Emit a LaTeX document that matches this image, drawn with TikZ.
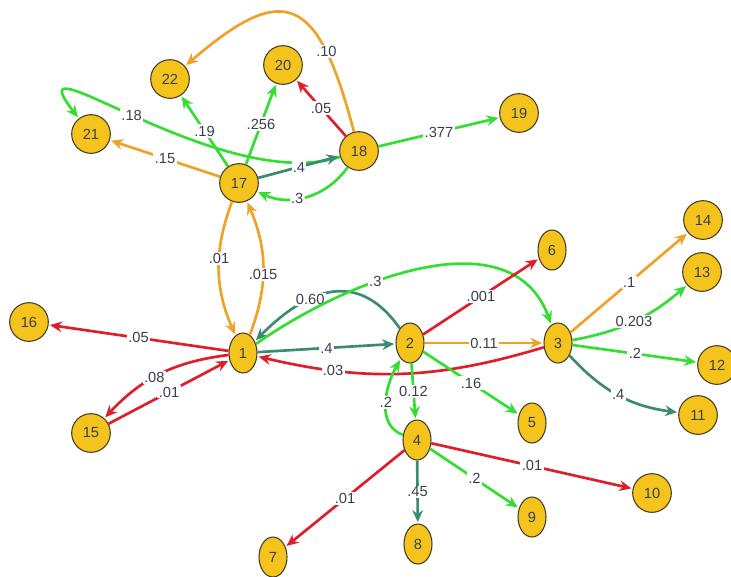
\documentclass[tikz,border=0pt]{standalone}
\usepackage{fontspec}
\setsansfont{Liberation Sans}
\usetikzlibrary{arrows.meta,shapes.geometric}
\definecolor{nodefill}{RGB}{244,196,28}
\definecolor{nodeline}{RGB}{70,60,40}
\definecolor{lbltext}{RGB}{60,62,80}
\definecolor{ered}{RGB}{222,30,40}
\definecolor{eorange}{RGB}{240,162,40}
\definecolor{egreen}{RGB}{50,222,50}
\definecolor{eteal}{RGB}{58,140,112}
\tikzset{
  circ/.style={circle,draw=nodeline,fill=nodefill,line width=0.8pt,
    minimum size=29pt,inner sep=0pt,font=\sffamily\fontsize{11}{13}\selectfont},
  oval/.style={ellipse,draw=nodeline,fill=nodefill,line width=0.8pt,
    minimum width=21pt,minimum height=30pt,inner sep=0pt,font=\sffamily\fontsize{11}{13}\selectfont},
  lbl/.style={fill=white,inner sep=1pt,text=lbltext,font=\sffamily\fontsize{11}{13}\selectfont},
  rd/.style={draw=ered,line width=2pt},
  og/.style={draw=eorange,line width=2pt},
  gn/.style={draw=egreen,line width=2pt},
  tl/.style={draw=eteal,line width=2pt}
}

\begin{document}
\begin{tikzpicture}[->,>={Stealth[length=9pt,width=8pt,inset=3pt]},shorten >=1pt,
    x=0.75pt,y=-0.75pt,every node/.append style={lbl}]
  \useasboundingbox (0,0) rectangle (731,576);

  \node[oval] (1) at (243,353) {1};
  \node[oval] (2) at (410,343) {2};
  \node[oval] (3) at (558,343) {3};
  \node[oval] (4) at (417,440) {4};
  \node[oval] (5) at (532,423) {5};
  \node[oval] (6) at (552,250) {6};
  \node[oval] (7) at (273,557) {7};
  \node[oval] (8) at (418,544) {8};
  \node[oval] (9) at (532,517) {9};
  \node[circ] (10) at (652,493) {10};
  \node[circ] (11) at (698,415) {11};
  \node[circ] (12) at (717,365) {12};
  \node[circ] (13) at (702,272) {13};
  \node[circ] (14) at (703,220) {14};
  \node[circ] (15) at (91,433) {15};
  \node[circ] (16) at (29,322) {16};
  \node[circ] (17) at (239,183) {17};
  \node[circ] (18) at (359,151) {18};
  \node[circ] (19) at (519,113) {19};
  \node[circ] (20) at (283,65) {20};
  \node[circ] (21) at (91,134) {21};
  \node[circ] (22) at (170,79) {22};

  % top cluster
  \draw[og] (18) .. controls (318,-5) and (285,-20) .. (22) node[pos=.25] {.10};
  \draw[gn] (18) .. controls (220,195) and (10,30) .. (21) node[pos=.52] {.18};
  \path (18) edge[rd] node {.05} (20)
        (18) edge[gn] node {.377} (19)
        (17) edge[tl] node {.4} (18)
        (18) edge[gn,bend left=40] node[pos=.6] {.3} (17);
  \path (17) edge[gn] node {.19} (22)
        (17) edge[gn] node {.256} (20)
        (17) edge[og] node {.15} (21);
  \path (17) edge[og,bend right=22] node[pos=.42] {.01} (1)
        (1) edge[og,bend right=22] node[pos=.45] {.015} (17);

  % node 1
  \path (1) edge[rd] node {.05} (16)
        (1) edge[rd,bend right=20] node[pos=.55] {.08} (15)
        (15) edge[rd] node {.01} (1)
        (1) edge[tl] node {.4} (2);
  \path (2) edge[tl,out=125,in=45,looseness=1.3] node[pos=.64] {0.60} (1)
        (1) edge[gn,out=35,in=110] node[pos=.36] {.3} (3)
        (3) edge[rd,bend left=15] node[pos=.75] {.03} (1);

  % node 2
  \path (2) edge[rd] node {.001} (6)
        (2) edge[og] node {0.11} (3)
        (2) edge[gn] node {.16} (5)
        (2) edge[gn] node {0.12} (4)
        (4) edge[gn,out=160,in=240] node {.2} (2);

  % node 3
  \path (3) edge[og] node {.1} (14)
        (3) edge[gn,bend right=15] node {0.203} (13)
        (3) edge[gn] node {.2} (12)
        (3) edge[tl,bend right=20] node {.4} (11);

  % node 4
  \path (4) edge[rd] node {.01} (7)
        (4) edge[tl] node {.45} (8)
        (4) edge[gn] node {.2} (9)
        (4) edge[rd] node {.01} (10);

\end{tikzpicture}
\end{document}
